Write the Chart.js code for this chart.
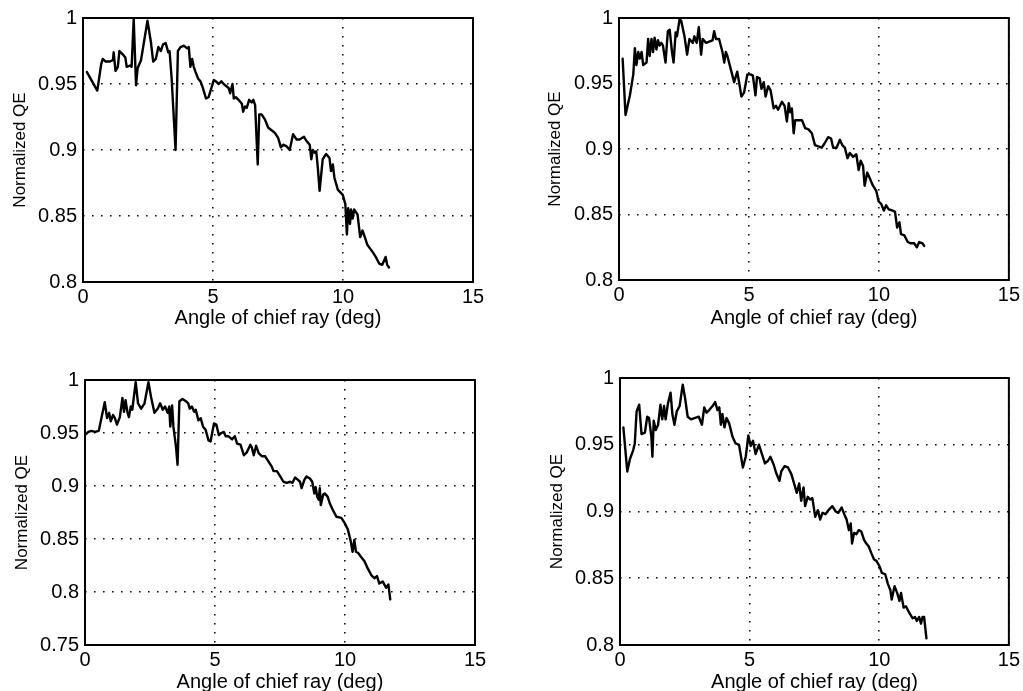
<!DOCTYPE html>
<html><head><meta charset="utf-8">
<script src="https://cdn.jsdelivr.net/npm/chart.js@4.4.0/dist/chart.umd.min.js"></script>
<style>
html,body{margin:0;padding:0;background:#fff;}
#wrap{position:relative;width:1023px;height:691px;overflow:hidden;background:#fff;}
canvas{position:absolute;}
</style></head><body><div id="wrap">
<canvas id="c1"></canvas><canvas id="c2"></canvas><canvas id="c3"></canvas><canvas id="c4"></canvas>
</div>
<script>
// ---- data ----
const xTicks = [0, 5, 10, 15];
const yTicksA = [0.8, 0.85, 0.9, 0.95, 1];
const yTicksB = [0.75, 0.8, 0.85, 0.9, 0.95, 1];
const xTitle = 'Angle of chief ray (deg)';
const yTitle = 'Normalized QE';

const angle1 = [0.15,0.55,0.70,0.76,0.87,1.02,1.15,1.18,1.25,1.34,1.40,1.55,1.63,1.68,1.81,1.87,1.95,2.04,2.10,2.23,2.48,2.61,2.70,2.80,2.90,2.99,3.08,3.18,3.28,3.33,3.41,3.56,3.65,3.75,3.88,4.01,4.07,4.13,4.20,4.26,4.33,4.43,4.52,4.61,4.73,4.83,4.94,5.03,5.11,5.22,5.32,5.41,5.47,5.60,5.66,5.75,5.80,5.88,5.98,6.11,6.16,6.23,6.30,6.39,6.49,6.55,6.62,6.72,6.78,6.87,7.00,7.12,7.25,7.38,7.51,7.61,7.70,7.82,7.95,8.08,8.21,8.33,8.50,8.59,8.72,8.78,8.84,8.91,8.97,9.03,9.10,9.22,9.35,9.48,9.54,9.61,9.67,9.80,9.99,10.09,10.15,10.20,10.27,10.31,10.37,10.43,10.56,10.66,10.75,10.84,10.94,11.13,11.26,11.39,11.51,11.64,11.70,11.77];
const qe1 = [0.959,0.945,0.965,0.969,0.967,0.967,0.968,0.974,0.960,0.963,0.975,0.972,0.970,0.963,0.964,0.963,0.999,0.949,0.962,0.968,0.998,0.982,0.967,0.969,0.978,0.975,0.980,0.981,0.974,0.975,0.954,0.900,0.975,0.978,0.979,0.977,0.978,0.963,0.969,0.963,0.959,0.954,0.952,0.947,0.939,0.940,0.947,0.953,0.952,0.950,0.952,0.950,0.949,0.947,0.943,0.950,0.939,0.940,0.938,0.935,0.929,0.933,0.932,0.938,0.936,0.938,0.934,0.889,0.927,0.927,0.923,0.917,0.915,0.913,0.909,0.902,0.904,0.903,0.900,0.912,0.908,0.908,0.910,0.907,0.904,0.893,0.900,0.898,0.899,0.887,0.869,0.893,0.897,0.894,0.884,0.889,0.879,0.870,0.866,0.859,0.836,0.856,0.844,0.855,0.848,0.855,0.851,0.834,0.839,0.834,0.828,0.823,0.819,0.814,0.813,0.819,0.813,0.811];

const angle2 = [0.14,0.25,0.42,0.55,0.61,0.67,0.74,0.80,0.87,0.93,1.06,1.12,1.18,1.25,1.31,1.37,1.44,1.50,1.56,1.63,1.69,1.79,1.88,1.95,2.04,2.10,2.18,2.23,2.33,2.39,2.52,2.62,2.71,2.84,2.90,2.99,3.07,3.16,3.22,3.35,3.47,3.60,3.66,3.73,3.85,3.98,4.05,4.11,4.17,4.30,4.43,4.55,4.62,4.71,4.81,4.94,5.06,5.15,5.25,5.31,5.41,5.48,5.57,5.64,5.74,5.83,5.95,6.04,6.12,6.27,6.37,6.46,6.53,6.59,6.65,6.72,6.78,6.91,7.04,7.16,7.29,7.42,7.54,7.67,7.80,7.90,8.05,8.16,8.24,8.37,8.50,8.59,8.69,8.79,8.88,9.01,9.13,9.22,9.30,9.39,9.45,9.55,9.64,9.77,9.90,9.99,10.09,10.19,10.28,10.37,10.53,10.62,10.70,10.79,10.85,10.98,11.11,11.23,11.36,11.46,11.55,11.68,11.74];
const qe2 = [0.969,0.926,0.941,0.957,0.977,0.964,0.974,0.969,0.974,0.964,0.966,0.984,0.971,0.984,0.974,0.985,0.976,0.983,0.979,0.981,0.979,0.966,0.990,0.991,0.974,0.966,0.989,0.986,0.999,0.998,0.986,0.972,0.984,0.981,0.986,0.981,0.993,0.972,0.984,0.981,0.982,0.983,0.990,0.984,0.984,0.974,0.966,0.974,0.971,0.961,0.951,0.959,0.951,0.940,0.943,0.957,0.957,0.956,0.941,0.955,0.954,0.946,0.951,0.940,0.948,0.945,0.931,0.933,0.930,0.936,0.933,0.921,0.935,0.928,0.931,0.912,0.922,0.922,0.922,0.916,0.915,0.912,0.903,0.902,0.901,0.904,0.909,0.908,0.901,0.901,0.907,0.903,0.901,0.893,0.897,0.894,0.896,0.884,0.891,0.887,0.872,0.882,0.878,0.872,0.868,0.860,0.858,0.853,0.857,0.854,0.853,0.852,0.840,0.844,0.835,0.834,0.829,0.828,0.828,0.825,0.829,0.828,0.826];

const angle3 = [0.04,0.13,0.25,0.38,0.53,0.64,0.76,0.85,0.93,0.99,1.08,1.15,1.23,1.34,1.44,1.50,1.56,1.63,1.69,1.76,1.82,1.95,2.04,2.16,2.29,2.44,2.54,2.67,2.80,2.89,2.99,3.08,3.18,3.24,3.28,3.35,3.40,3.50,3.56,3.63,3.75,3.88,3.97,4.03,4.11,4.20,4.26,4.36,4.45,4.54,4.64,4.75,4.83,4.96,5.05,5.15,5.25,5.34,5.41,5.51,5.66,5.76,5.85,5.98,6.11,6.23,6.36,6.42,6.49,6.58,6.68,6.81,6.93,7.06,7.19,7.25,7.38,7.51,7.63,7.76,7.89,7.98,8.08,8.18,8.27,8.33,8.44,8.52,8.65,8.74,8.82,8.87,8.93,8.99,9.03,9.07,9.16,9.22,9.33,9.41,9.54,9.67,9.86,9.99,10.11,10.22,10.29,10.36,10.42,10.50,10.62,10.75,10.88,11.01,11.13,11.23,11.32,11.45,11.58,11.67,11.74];
const qe3 = [0.949,0.951,0.952,0.951,0.952,0.965,0.979,0.964,0.969,0.961,0.967,0.964,0.958,0.965,0.983,0.970,0.981,0.970,0.965,0.975,0.972,0.998,0.978,0.973,0.978,0.998,0.984,0.969,0.973,0.978,0.972,0.975,0.969,0.975,0.956,0.976,0.956,0.937,0.920,0.980,0.982,0.980,0.978,0.973,0.975,0.970,0.972,0.962,0.964,0.956,0.953,0.943,0.942,0.959,0.958,0.948,0.950,0.951,0.947,0.947,0.944,0.947,0.940,0.939,0.929,0.932,0.939,0.936,0.929,0.938,0.931,0.928,0.928,0.923,0.918,0.914,0.914,0.909,0.904,0.903,0.904,0.903,0.908,0.906,0.904,0.898,0.906,0.909,0.907,0.904,0.893,0.899,0.890,0.887,0.898,0.882,0.892,0.893,0.890,0.884,0.877,0.871,0.870,0.865,0.859,0.848,0.838,0.849,0.838,0.837,0.833,0.829,0.822,0.816,0.813,0.815,0.808,0.810,0.804,0.807,0.793];

const angle4 = [0.13,0.28,0.38,0.51,0.57,0.64,0.74,0.83,0.96,1.05,1.12,1.21,1.25,1.30,1.38,1.47,1.56,1.63,1.70,1.76,1.85,1.95,2.02,2.10,2.19,2.30,2.42,2.51,2.61,2.74,2.87,3.04,3.16,3.25,3.34,3.44,3.57,3.67,3.76,3.83,3.89,3.95,4.03,4.11,4.21,4.34,4.46,4.59,4.74,4.85,4.95,5.04,5.13,5.23,5.36,5.46,5.59,5.71,5.80,5.93,6.02,6.15,6.22,6.35,6.48,6.61,6.73,6.82,6.91,6.99,7.08,7.14,7.24,7.33,7.42,7.53,7.63,7.72,7.81,7.93,8.04,8.19,8.32,8.42,8.55,8.65,8.74,8.83,8.90,8.95,9.03,9.12,9.21,9.31,9.41,9.50,9.59,9.69,9.80,9.89,10.01,10.10,10.23,10.33,10.43,10.48,10.59,10.69,10.78,10.84,10.94,11.03,11.16,11.29,11.38,11.45,11.54,11.61,11.67,11.73,11.82];
const qe4 = [0.963,0.930,0.939,0.946,0.951,0.975,0.980,0.958,0.959,0.971,0.970,0.956,0.941,0.968,0.961,0.965,0.980,0.969,0.979,0.969,0.981,0.989,0.973,0.965,0.975,0.979,0.995,0.985,0.971,0.969,0.970,0.971,0.965,0.978,0.974,0.976,0.979,0.982,0.976,0.978,0.965,0.973,0.963,0.970,0.966,0.956,0.951,0.950,0.933,0.941,0.957,0.949,0.953,0.943,0.950,0.944,0.936,0.938,0.941,0.935,0.929,0.923,0.930,0.934,0.933,0.928,0.920,0.914,0.921,0.908,0.918,0.904,0.911,0.909,0.910,0.896,0.901,0.894,0.899,0.898,0.901,0.904,0.900,0.899,0.903,0.898,0.894,0.886,0.891,0.876,0.884,0.883,0.886,0.885,0.879,0.876,0.874,0.869,0.864,0.863,0.859,0.854,0.853,0.846,0.841,0.834,0.844,0.839,0.833,0.839,0.828,0.829,0.824,0.820,0.821,0.818,0.821,0.816,0.821,0.821,0.805];

// ---- layout (positions in page px) ----
const FONT = "'Liberation Sans', Arial, Helvetica, sans-serif";
const TICK_SIZE = 20, XT_SIZE = 20, YT_SIZE = 17;
const panels = [
  {id:'c1', angle:angle1, qe:qe1, yTicks:yTicksA, cv:{x:0,  y:0,   w:500, h:340}, area:{l:83, t:16, r:473, b:282}, yTitleX:20, xTitleY:318},
  {id:'c2', angle:angle2, qe:qe2, yTicks:yTicksA, cv:{x:530,y:0,   w:493, h:340}, area:{l:89, t:15, r:480, b:280}, yTitleX:25, xTitleY:318},
  {id:'c3', angle:angle3, qe:qe3, yTicks:yTicksB, cv:{x:0,  y:350, w:500, h:360}, area:{l:85, t:30, r:475, b:295}, yTitleX:22, xTitleY:332},
  {id:'c4', angle:angle4, qe:qe4, yTicks:yTicksA, cv:{x:530,y:350, w:493, h:360}, area:{l:90, t:28, r:481, b:295}, yTitleX:27, xTitleY:332}
];

const boxPlugin = {
  id:'box',
  afterDraw(chart){
    const {ctx, chartArea:a} = chart;
    ctx.save();
    ctx.strokeStyle = '#000';
    ctx.lineWidth = 2;
    ctx.strokeRect(a.left, a.top, a.right - a.left, a.bottom - a.top);
    ctx.restore();
  }
};

function fmt(v){ return String(Number(v.toFixed(2))); }

panels.forEach(p => {
  const el = document.getElementById(p.id);
  el.width = p.cv.w; el.height = p.cv.h;
  el.style.left = p.cv.x + 'px'; el.style.top = p.cv.y + 'px';
  el.style.width = p.cv.w + 'px'; el.style.height = p.cv.h + 'px';
  const yLH = YT_SIZE * 1.2, xLH = XT_SIZE * 1.2;
  const ymin = p.yTicks[0], ymax = p.yTicks[p.yTicks.length - 1];
  new Chart(el, {
    type: 'line',
    data: { datasets: [{
      data: p.angle.map((a, i) => ({x: a, y: p.qe[i]})),
      borderColor: '#000', borderWidth: 2.4, pointRadius: 0, tension: 0,
      borderJoinStyle: 'round', borderCapStyle: 'round', fill: false
    }]},
    options: {
      responsive: false, animation: false, devicePixelRatio: 1,
      layout: { padding: { left: 0, top: p.area.t, right: p.cv.w - p.area.r, bottom: 0 } },
      plugins: { legend: {display:false}, tooltip: {enabled:false} },
      scales: {
        x: {
          type: 'linear', min: xTicks[0], max: xTicks[xTicks.length-1],
          afterBuildTicks: s => { s.ticks = xTicks.map(v => ({value: v})); },
          afterFit: s => { s.height = p.cv.h - p.area.b; },
          ticks: { color:'#000', font:{family:FONT, size:TICK_SIZE}, padding:3, maxRotation:0, callback: v => fmt(v) },
          grid: { color:'#111', lineWidth:1.6, drawTicks:false },
          border: { display:false, dash:[1.6, 7.4] },
          title: { display:true, text:xTitle, color:'#000', font:{family:FONT, size:XT_SIZE},
                   padding:{top:0, bottom: p.cv.h - p.xTitleY - xLH/2} }
        },
        y: {
          type: 'linear', min: ymin, max: ymax,
          afterBuildTicks: s => { s.ticks = p.yTicks.map(v => ({value: v})); },
          afterFit: s => { s.width = p.area.l; },
          ticks: { color:'#000', font:{family:FONT, size:TICK_SIZE}, padding:6, callback: v => fmt(v) },
          grid: { color:'#111', lineWidth:1.6, drawTicks:false },
          border: { display:false, dash:[1.6, 7.4] },
          title: { display:true, text:yTitle, color:'#000', font:{family:FONT, size:YT_SIZE},
                   padding:{top: p.yTitleX - yLH/2, bottom:0} }
        }
      }
    },
    plugins: [boxPlugin]
  });
});
</script>
</body></html>
